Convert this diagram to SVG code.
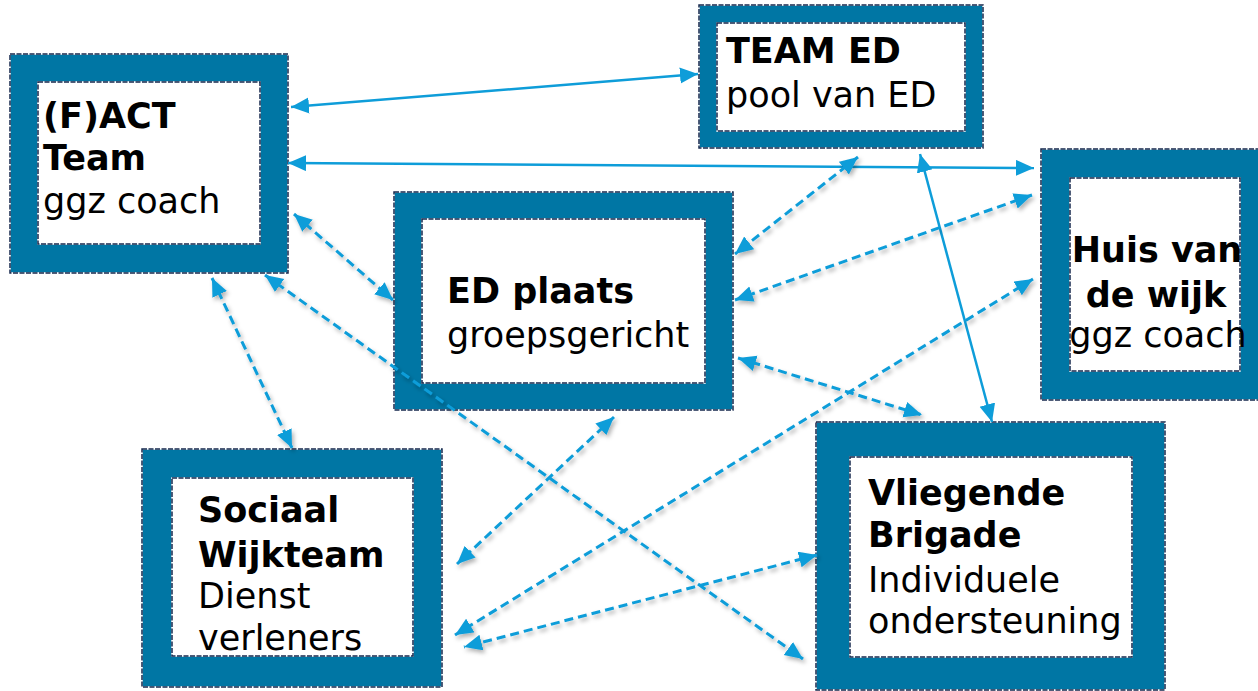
<svg xmlns="http://www.w3.org/2000/svg" width="1258" height="691" viewBox="0 0 1258 691">
<defs>
<marker id="ah" markerUnits="userSpaceOnUse" markerWidth="19" markerHeight="17" refX="18" refY="8" orient="auto-start-reverse" viewBox="0 0 19 17">
<path d="M0,0 L18,8 L0,16 z" fill="#0e9dd9"/>
</marker>
<filter id="sh" x="-10%" y="-10%" width="120%" height="120%">
<feDropShadow dx="2" dy="3" stdDeviation="2" flood-color="#000" flood-opacity="0.3"/>
</filter>
</defs>
<style>
.outer{fill:#0076a4}
.inner{fill:#ffffff}
.bw{fill:none;stroke:#ffffff;stroke-width:1.5}
.bd{fill:none;stroke:#16294d;stroke-width:1.5;stroke-dasharray:5 1.5}
.t{font-family:"DejaVu Sans",Verdana,sans-serif;font-size:35px;fill:#000}
.b{font-weight:bold}
.c{stroke:#0e9dd9;fill:none;marker-start:url(#ah);marker-end:url(#ah)}
.s{stroke-width:2.5}
.d{stroke-width:3;stroke-dasharray:9 5}
</style>
<rect width="1258" height="691" fill="#ffffff"/>

<g id="fact">
<rect class="outer" x="10" y="54" width="278" height="219"/>
<rect class="bw" x="10" y="54" width="278" height="219"/><rect class="bd" x="10" y="54" width="278" height="219"/>
<rect class="inner" x="38" y="82" width="222" height="162"/>
<rect class="bw" x="38" y="82" width="222" height="162"/><rect class="bd" x="38" y="82" width="222" height="162"/>
<text class="t b" x="43" y="128">(F)ACT</text>
<text class="t b" x="43" y="170">Team</text>
<text class="t" x="43" y="213">ggz coach</text>
</g>

<g id="teamed">
<rect class="outer" x="699" y="5" width="284" height="143"/>
<rect class="bw" x="699" y="5" width="284" height="143"/><rect class="bd" x="699" y="5" width="284" height="143"/>
<rect class="inner" x="717" y="23" width="248" height="108"/>
<rect class="bw" x="717" y="23" width="248" height="108"/><rect class="bd" x="717" y="23" width="248" height="108"/>
<text class="t b" x="726" y="63">TEAM ED</text>
<text class="t" x="726" y="107">pool van ED</text>
</g>

<g id="edplaats">
<rect class="outer" x="394" y="192" width="339" height="218"/>
<rect class="bw" x="394" y="192" width="339" height="218"/><rect class="bd" x="394" y="192" width="339" height="218"/>
<rect class="inner" x="422" y="219" width="283" height="164"/>
<rect class="bw" x="422" y="219" width="283" height="164"/><rect class="bd" x="422" y="219" width="283" height="164"/>
<text class="t b" x="447" y="303">ED plaats</text>
<text class="t" x="447" y="347">groepsgericht</text>
</g>

<g id="huis">
<rect class="outer" x="1041" y="149" width="222" height="251"/>
<rect class="bw" x="1041" y="149" width="222" height="251"/><rect class="bd" x="1041" y="149" width="222" height="251"/>
<rect class="inner" x="1070" y="178" width="170" height="193"/>
<rect class="bw" x="1070" y="178" width="170" height="193"/><rect class="bd" x="1070" y="178" width="170" height="193"/>
<text class="t b" x="1157" y="262" text-anchor="middle">Huis van</text>
<text class="t b" x="1156" y="307" text-anchor="middle">de wijk</text>
<text class="t" x="1158" y="347" text-anchor="middle">ggz coach</text>
</g>

<g id="sociaal">
<rect class="outer" x="142" y="449" width="300" height="238"/>
<rect class="bw" x="142" y="449" width="300" height="238"/><rect class="bd" x="142" y="449" width="300" height="238"/>
<rect class="inner" x="172" y="478" width="241" height="178"/>
<rect class="bw" x="172" y="478" width="241" height="178"/><rect class="bd" x="172" y="478" width="241" height="178"/>
<text class="t b" x="198" y="522">Sociaal</text>
<text class="t b" x="198" y="567">Wijkteam</text>
<text class="t" x="198" y="608">Dienst</text>
<text class="t" x="198" y="650">verleners</text>
</g>

<g id="vliegende">
<rect class="outer" x="816" y="422" width="349" height="268"/>
<rect class="bw" x="816" y="422" width="349" height="268"/><rect class="bd" x="816" y="422" width="349" height="268"/>
<rect class="inner" x="850" y="457" width="282" height="200"/>
<rect class="bw" x="850" y="457" width="282" height="200"/><rect class="bd" x="850" y="457" width="282" height="200"/>
<text class="t b" x="868" y="505">Vliegende</text>
<text class="t b" x="868" y="547">Brigade</text>
<text class="t" x="868" y="592">Individuele</text>
<text class="t" x="868" y="633">ondersteuning</text>
</g>

<g id="connectors">
<line class="c s" x1="291" y1="107" x2="698" y2="74"/>
<line class="c s" x1="288" y1="163" x2="1034" y2="168"/>
<line class="c s" x1="920" y1="154" x2="992" y2="422"/>
<g filter="url(#sh)">
<line class="c d" x1="294" y1="214" x2="393" y2="300"/>
<line class="c d" x1="212" y1="278" x2="292" y2="448"/>
<line class="c d" x1="265" y1="275" x2="803" y2="659"/>
<line class="c d" x1="858" y1="157" x2="735" y2="254"/>
<line class="c d" x1="1032" y1="195" x2="735" y2="300"/>
<line class="c d" x1="1033" y1="279" x2="455" y2="635"/>
<line class="c d" x1="738" y1="358" x2="922" y2="415"/>
<line class="c d" x1="614" y1="417" x2="457" y2="564"/>
<line class="c d" x1="817" y1="555" x2="464" y2="647"/>
</g>
</g>
</svg>
